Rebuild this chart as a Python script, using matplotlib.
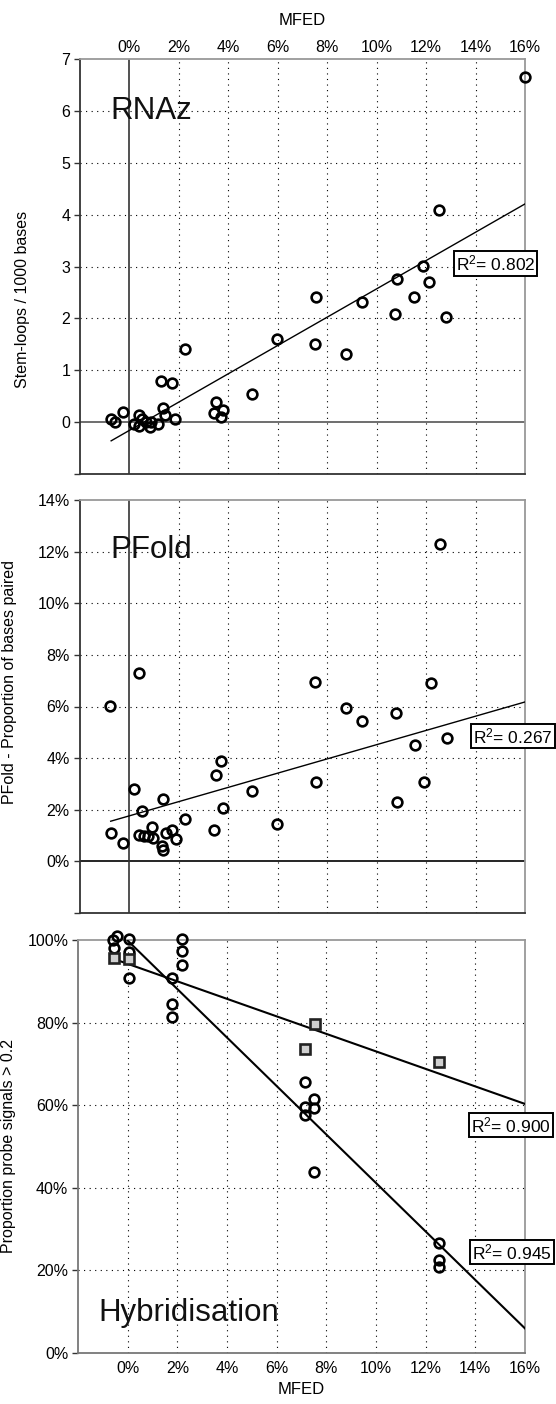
import numpy as np
import matplotlib
matplotlib.use('Agg')
import matplotlib.pyplot as plt
from matplotlib.ticker import FuncFormatter

plt.rcParams['font.family'] = ['Liberation Sans', 'DejaVu Sans']
plt.rcParams['font.size'] = 11
plt.rcParams['mathtext.fontset'] = 'custom'
plt.rcParams['mathtext.rm'] = 'Liberation Sans'
plt.rcParams['mathtext.it'] = 'Liberation Sans'
plt.rcParams['mathtext.default'] = 'regular'

# RNAz stem-loops vs MFED (%)
rnaz_x = [-0.74, -0.57, -0.27, 0.17, 0.40, 0.38, 0.51, 0.67, 0.85, 0.89, 1.14, 1.36,
          1.45, 1.86, 1.29, 1.71, 2.25, 3.41, 3.50, 3.72, 3.78, 4.94, 5.95, 7.50,
          7.54, 8.75, 9.39, 10.75, 10.81, 11.53, 11.89, 12.13, 12.54, 12.80, 16.0]
rnaz_y = [0.06, 0.01, 0.20, -0.04, 0.14, -0.07, 0.06, 0.01, -0.09, 0.00, -0.04, 0.28,
          0.14, 0.06, 0.80, 0.75, 1.42, 0.17, 0.38, 0.10, 0.24, 0.54, 1.61, 1.50,
          2.42, 1.32, 2.31, 2.08, 2.77, 2.42, 3.02, 2.70, 4.10, 2.02, 6.65]

# PFold proportion of bases paired (%)
pfold_x = [-0.74, -0.25, 0.20, 0.39, 0.51, 1.36, 2.26, 0.42, 0.62, 0.78, 0.92, 0.98,
           1.49, 1.72, 1.88, 1.32, 1.36, -0.76, 3.42, 3.52, 3.72, 3.80, 4.97, 5.97,
           7.53, 7.56, 8.78, 9.40, 10.78, 10.84, 11.57, 11.91, 12.19, 12.57, 12.84]
pfold_y = [1.11, 0.70, 2.79, 7.31, 1.97, 2.40, 1.66, 1.02, 0.99, 0.97, 1.35, 0.89,
           1.11, 1.21, 0.85, 0.59, 0.44, 6.02, 1.21, 3.34, 3.89, 2.08, 2.71, 1.43,
           6.96, 3.07, 5.95, 5.43, 5.73, 2.29, 4.50, 3.08, 6.90, 12.31, 4.78]

# Hybridisation: proportion probe signals > 0.2 (%)
hyb_circ_x = [-0.59, -0.42, -0.56, 0.05, 0.05, 0.05, 1.79, 1.80, 1.80, 2.19, 2.19, 2.19,
              7.14, 7.14, 7.14, 7.51, 7.51, 7.51, 12.54, 12.54, 12.54]
hyb_circ_y = [100.0, 101.0, 98.0, 100.2, 97.1, 90.9, 90.9, 84.4, 81.3, 100.2, 97.3, 94.0,
              65.7, 59.5, 57.5, 61.4, 59.4, 43.8, 26.6, 22.4, 20.8]
hyb_sq_x = [-0.56, 0.05, 7.15, 7.53, 12.54]
hyb_sq_y = [95.6, 95.4, 73.7, 79.7, 70.5]

# trendlines: slope, intercept, x range
rnaz_fit = [0.273, -0.158, -0.74, 16.0]
pfold_fit = [0.276, 1.76, -0.74, 16.0]
hyb_circ_fit = [-5.874, 99.86, 0.0, 16.0]
hyb_sq_fit = [-2.122, 94.23, -0.56, 16.0]
r2_labels = ['R$^2$= 0.802', 'R$^2$= 0.267', 'R$^2$= 0.900', 'R$^2$= 0.945']

x_ticks = [0, 2, 4, 6, 8, 10, 12, 14, 16]

W, H = 556, 1404
fig = plt.figure(figsize=(W / 100, H / 100), dpi=100)


def box(left, right, top, bottom):
    return [left / W, 1 - bottom / H, (right - left) / W, (bottom - top) / H]


def style_axes(ax):
    ax.set_xlim(-2, 16)
    ax.set_xticks(x_ticks)
    ax.tick_params(axis='x', length=0, pad=3, labelsize=11.5)
    ax.tick_params(axis='y', length=4, width=1, direction='out', pad=3, labelsize=11.5, color='#333333')
    ax.spines['top'].set_color('#999999')
    ax.spines['right'].set_color('#999999')
    ax.spines['left'].set_color('#333333')
    ax.spines['bottom'].set_color('#333333')
    for s in ax.spines.values():
        s.set_linewidth(1.3)
    ax.xaxis.set_major_formatter(FuncFormatter(lambda v, p: '%d%%' % v))


def draw_grid(ax, xs, ys):
    for v in xs:
        ax.axvline(v, color='black', lw=0.8, ls=(0, (1, 4)), zorder=1)
    for v in ys:
        ax.axhline(v, color='black', lw=0.8, ls=(0, (1, 4)), zorder=1)


def r2_box(xpix, ypix, text):
    fig.text(xpix / W, 1 - ypix / H, text, ha='center', va='center', fontsize=12.5,
             bbox=dict(boxstyle='square,pad=0.12', fc='white', ec='black', lw=1.4))


circ = dict(ls='none', marker='o', ms=7, mfc='none', mec='black', mew=1.9, zorder=5, clip_on=False)

# ---- RNAz ----
ax1 = fig.add_axes(box(80, 525, 59.3, 474))
style_axes(ax1)
ax1.set_ylim(-1, 7)
ax1.set_yticks(range(-1, 8))
ax1.yaxis.set_major_formatter(FuncFormatter(lambda v, p: '' if v < 0 else '%d' % v))
ax1.xaxis.tick_top()
ax1.xaxis.set_label_position('top')
ax1.set_xlabel('MFED', fontsize=12, labelpad=11)
draw_grid(ax1, x_ticks[1:-1], range(1, 7))
ax1.axhline(0, color='#555555', lw=1.2, zorder=2)
ax1.axvline(0, color='#333333', lw=1.2, zorder=2)
ax1.plot(rnaz_x, rnaz_y, **circ)
xl = np.array(rnaz_fit[2:])
ax1.plot(xl, rnaz_fit[0] * xl + rnaz_fit[1], color='black', lw=1.0, zorder=4)
ax1.set_ylabel('Stem-loops / 1000 bases', fontsize=11.5)
ax1.yaxis.set_label_coords(-50 / 445, 0.42)
fig.text(110 / W, 1 - 119 / H, 'RNAz', fontsize=22.5, va='baseline', ha='left', color='#111111')
r2_box(495.5, 263.5, r2_labels[0])

# ---- PFold ----
ax2 = fig.add_axes(box(79.5, 525, 500, 913))
style_axes(ax2)
ax2.set_ylim(-2, 14)
ax2.set_yticks(range(-2, 15, 2))
ax2.yaxis.set_major_formatter(FuncFormatter(lambda v, p: '' if v < 0 else '%d%%' % v))
ax2.tick_params(axis='x', labeltop=False, labelbottom=False)
draw_grid(ax2, x_ticks[1:-1], range(2, 14, 2))
ax2.axhline(0, color='black', lw=1.2, zorder=2)
ax2.axvline(0, color='#333333', lw=1.2, zorder=2)
ax2.plot(pfold_x, pfold_y, **circ)
xl = np.array(pfold_fit[2:])
ax2.plot(xl, pfold_fit[0] * xl + pfold_fit[1], color='black', lw=1.0, zorder=4)
ax2.set_ylabel('PFold - Proportion of bases paired', fontsize=11.5)
ax2.yaxis.set_label_coords(-62 / 445.5, 0.56)
fig.text(110 / W, 1 - 558 / H, 'PFold', fontsize=22.5, va='baseline', ha='left', color='#111111')
r2_box(513, 736, r2_labels[1])

# ---- Hybridisation ----
ax3 = fig.add_axes(box(78, 525, 940, 1352.7))
style_axes(ax3)
ax3.set_ylim(0, 100)
ax3.set_yticks(range(0, 101, 20))
ax3.yaxis.set_major_formatter(FuncFormatter(lambda v, p: '%d%%' % v))
ax3.spines['left'].set_color('#777777')
ax3.spines['bottom'].set_color('#777777')
ax3.tick_params(axis='x', pad=6)
ax3.set_xlabel('MFED', fontsize=12, labelpad=4)
draw_grid(ax3, x_ticks[:-1], range(20, 100, 20))
ax3.plot(hyb_circ_x, hyb_circ_y, **circ)
ax3.plot(hyb_sq_x, hyb_sq_y, ls='none', marker='s', ms=7, mfc='#d0d0d0', mec='#222222',
         mew=1.9, zorder=6, clip_on=False)
for fit in [hyb_circ_fit, hyb_sq_fit]:
    xl = np.array(fit[2:])
    ax3.plot(xl, fit[0] * xl + fit[1], color='black', lw=1.5, zorder=4)
ax3.set_ylabel('Proportion probe signals > 0.2', fontsize=11.5)
ax3.yaxis.set_label_coords(-62 / 447, 0.5)
fig.text(98 / W, 1 - 1320.7 / H, 'Hybridisation', fontsize=22.5, va='baseline', ha='left', color='#111111')
r2_box(511, 1125, r2_labels[2])
r2_box(512, 1252, r2_labels[3])

fig.savefig('out.png', dpi=100)
